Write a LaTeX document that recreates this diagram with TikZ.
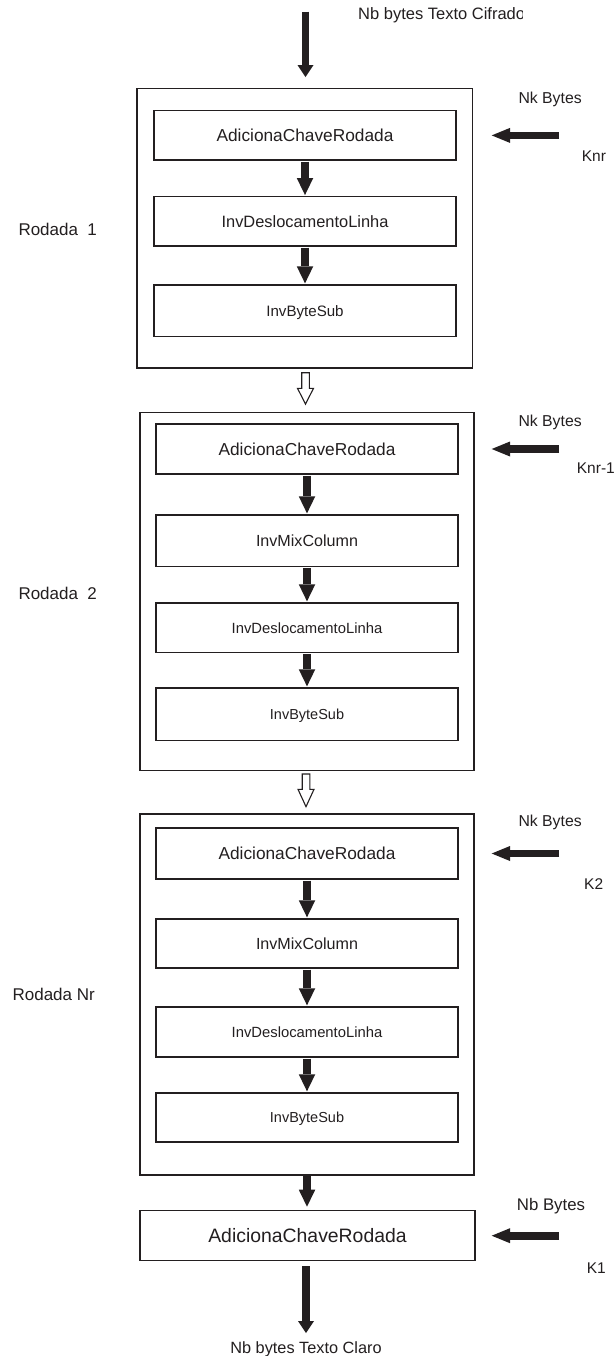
\documentclass[tikz,border=0pt]{standalone}
\usepackage{fontspec}
\setmainfont{Liberation Sans}
\usetikzlibrary{arrows.meta,calc}
\definecolor{ink}{RGB}{35,31,32}
\begin{document}
\begin{tikzpicture}[x=1pt,y=-1pt,
  outerbox/.style={draw=ink, line width=1.3pt, inner sep=0pt, outer sep=0pt},
  box/.style={draw=ink, line width=1.3pt, inner sep=0pt, outer sep=0pt, text=ink,
    text depth=0pt, minimum width=302pt},
  fA/.style={font=\fontsize{17.3}{20}\selectfont, text height=12.4pt},
  fD/.style={font=\fontsize{16.4}{19}\selectfont, text height=11.7pt},
  fDs/.style={font=\fontsize{14.8}{18}\selectfont, text height=10.6pt},
  fB/.style={font=\fontsize{15.1}{18}\selectfont, text height=10.8pt},
  fBs/.style={font=\fontsize{14.5}{17}\selectfont, text height=10.4pt},
  fM/.style={font=\fontsize{16.1}{19}\selectfont, text height=11.5pt},
  fF/.style={font=\fontsize{19.4}{23}\selectfont, text height=13.9pt},
  lbl/.style={text=ink, inner sep=0pt, anchor=base west, font=\fontsize{15.8}{19}\selectfont},
  rlbl/.style={text=ink, inner sep=0pt, anchor=base west, font=\fontsize{17}{20}\selectfont},
  flow/.style={draw=ink, line width=7.7pt, -{Triangle[length=17pt,width=16.5pt,line width=0pt]}},
  flowbig/.style={draw=ink, line width=7.7pt, -{Triangle[length=12pt,width=16pt,line width=0pt]}},
  flowh/.style={draw=ink, line width=7.7pt, -{Triangle[length=18.3pt,width=15pt,line width=0pt]}},
  openarr/.style={draw=ink, line width=1.1pt, fill=white, line join=miter}]
\useasboundingbox[fill=white] (0,0) rectangle (614,1356);

% ---- round 1
\node[outerbox, minimum width=335.7pt, minimum height=279.7pt] (o1) at (304.9,228.2) {};
\node[box, fA, minimum height=49.3pt] (i1a) at (305,135.4) {AdicionaChaveRodada};
\node[box, fD, minimum height=49.3pt] (i1b) at (305,221.4) {InvDeslocamentoLinha};
\node[box, fB, minimum height=51.7pt] (i1c) at (305,310.9) {InvByteSub};

% ---- round 2
\node[outerbox, minimum width=334pt, minimum height=358pt] (o2) at (307,591.7) {};
\node[box, fA, minimum height=50pt] (i2a) at (307,449) {AdicionaChaveRodada};
\node[box, fM, minimum height=51.7pt] (i2b) at (307,540.9) {InvMixColumn};
\node[box, fDs, minimum height=49.7pt] (i2c) at (307,627.9) {InvDeslocamentoLinha};
\node[box, fBs, minimum height=52.7pt] (i2d) at (307,714.4) {InvByteSub};

% ---- round Nr
\node[outerbox, minimum width=334pt, minimum height=361pt] (o3) at (307,994.5) {};
\node[box, fA, minimum height=51pt] (i3a) at (307,853.5) {AdicionaChaveRodada};
\node[box, fM, minimum height=49pt] (i3b) at (307,943.5) {InvMixColumn};
\node[box, fDs, minimum height=50pt] (i3c) at (307,1032) {InvDeslocamentoLinha};
\node[box, fBs, minimum height=49pt] (i3d) at (307,1117.5) {InvByteSub};

% ---- final
\node[box, fF, minimum width=335pt, minimum height=50pt] (fin) at (307.5,1235.7) {AdicionaChaveRodada};

% ---- labels
\begin{scope}
\clip (0,0) rectangle (522,40);
\node[lbl, font=\fontsize{16.5}{19}\selectfont] (cif) at (358,20) {Nb bytes Texto Cifrado};
\end{scope}
\node[lbl] (nk1) at (518.3,103.3) {Nk Bytes};
\node[lbl, font=\fontsize{15.5}{19}\selectfont] (knr) at (581.7,162) {Knr};
\node[lbl] (nk2) at (518.3,426) {Nk Bytes};
\node[lbl, font=\fontsize{15.5}{19}\selectfont] (knr1) at (576.7,473) {Knr-1};
\node[lbl] (nk3) at (518.3,826) {Nk Bytes};
\node[lbl, font=\fontsize{15.5}{19}\selectfont] (k2) at (584,889) {K2};
\node[lbl, font=\fontsize{16.8}{20}\selectfont] (nb) at (516.7,1210) {Nb Bytes};
\node[lbl, font=\fontsize{15.5}{19}\selectfont] (k1) at (586.7,1273) {K1};
\node[lbl, anchor=base, font=\fontsize{16.3}{19}\selectfont] (claro) at (306,1353.3) {Nb bytes Texto Claro};
\node[rlbl] (r1) at (18.3,236) {Rodada\ \ 1};
\node[rlbl] (r2) at (18.3,599) {Rodada\ \ 2};
\node[rlbl, anchor=base east] (r3) at (95,1000) {Rodada Nr};

% ---- vertical flow arrows
\coordinate (in) at (305.5,11.7);
\draw[flowbig, shorten >=11.3pt] (in) -- (in |- o1.north);
\draw[flow, shorten <=1.7pt, shorten >=1.7pt] (i1a) -- (i1b);
\draw[flow, shorten <=1.7pt, shorten >=1.7pt] (i1b) -- (i1c);
\draw[flow, shorten <=1.7pt, shorten >=1.7pt] (i2a) -- (i2b);
\draw[flow, shorten <=1.7pt, shorten >=1.7pt] (i2b) -- (i2c);
\draw[flow, shorten <=1.7pt, shorten >=1.7pt] (i2c) -- (i2d);
\draw[flow, shorten <=1.7pt, shorten >=1.7pt] (i3a) -- (i3b);
\draw[flow, shorten <=1.7pt, shorten >=1.7pt] (i3b) -- (i3c);
\draw[flow, shorten <=1.7pt, shorten >=1.7pt] (i3c) -- (i3d);
\draw[flow, shorten <=0.8pt, shorten >=4pt] (o3.south) -- (o3.south |- fin.north);
\coordinate (out) at ($(fin.south)+(-1.5,72.3)$);
\draw[flowbig, shorten <=5.3pt] (out |- fin.south) -- (out);

% ---- hollow arrows between rounds
\path ($(o1.south)+(0.6,4.7)$) coordinate (h1);
\draw[openarr] (h1) ++(-3.8,0) -- ++(7.6,0) -- ++(0,15.6) -- ++(4.2,0) -- ++(-8,15.7) -- ++(-8,-15.7) -- ++(4.2,0) -- cycle;
\path ($(o2.south)+(-1,3.3)$) coordinate (h2);
\draw[openarr] (h2) ++(-3.8,0) -- ++(7.6,0) -- ++(0,15.3) -- ++(4.2,0) -- ++(-8,17.4) -- ++(-8,-17.4) -- ++(4.2,0) -- cycle;

% ---- key arrows
\path (i1a.east) ++(103,0) coordinate (kk1);
\draw[flowh, shorten >=35.7pt] (kk1) -- (i1a.east);
\path (i2a.east) ++(101,0) coordinate (kk2);
\draw[flowh, shorten >=33.7pt] (kk2) -- (i2a.east);
\path (i3a.east) ++(101,0) coordinate (kk3);
\draw[flowh, shorten >=33.7pt] (kk3) -- (i3a.east);
\path (fin.east) ++(84,0) coordinate (kk4);
\draw[flowh, shorten >=16.7pt] (kk4) -- (fin.east);
\end{tikzpicture}
\end{document}
